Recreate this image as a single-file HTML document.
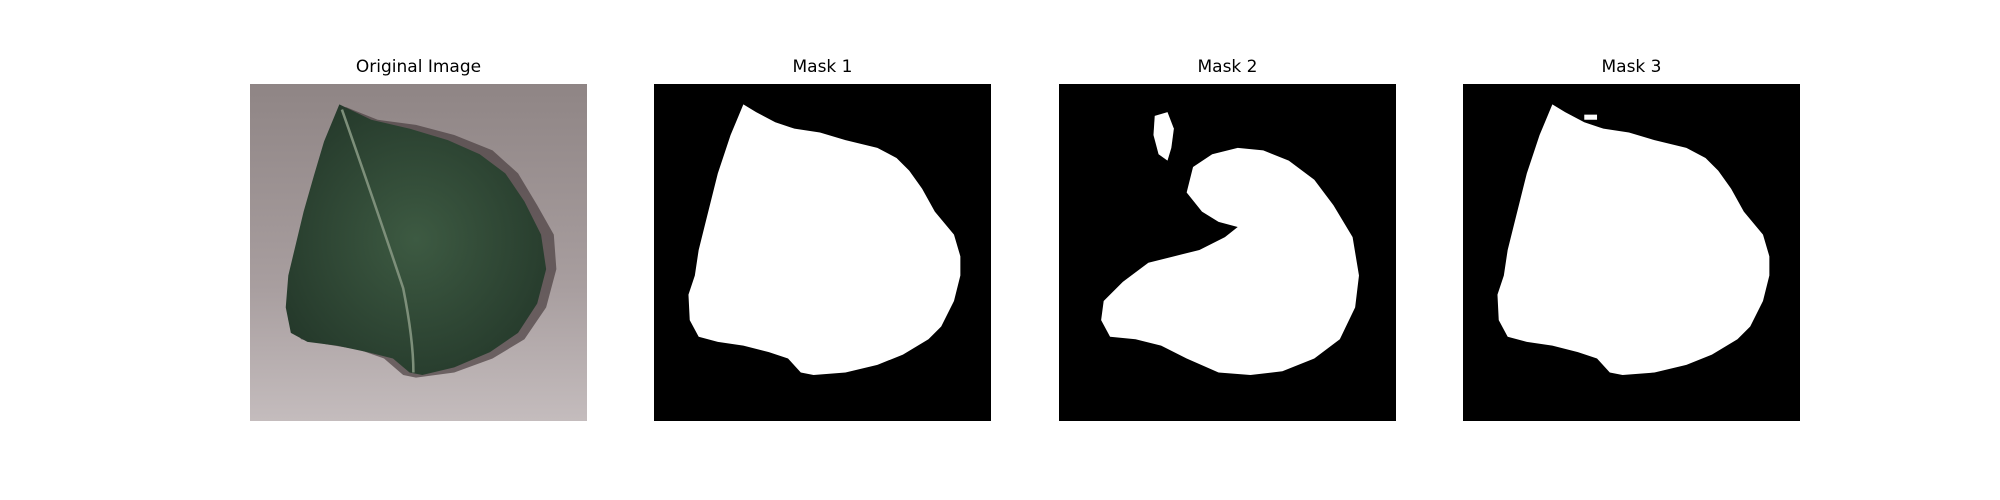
<!DOCTYPE html>
<html><head><meta charset="utf-8"><style>
html,body{margin:0;padding:0;background:#fff;}
#fig{position:relative;width:2000px;height:500px;background:#fff;font-family:"DejaVu Sans","Liberation Sans",sans-serif;}
.ttl{position:absolute;top:57px;width:337px;text-align:center;font-size:17px;color:#000;}
svg.p{position:absolute;top:84px;width:337px;height:337px;}
</style></head><body>
<div id="fig">
  <div class="ttl" style="left:250px">Original Image</div>
  <div class="ttl" style="left:654px">Mask 1</div>
  <div class="ttl" style="left:1059px">Mask 2</div>
  <div class="ttl" style="left:1463px">Mask 3</div>

  <svg class="p" style="left:250px" viewBox="0 0 264 264" preserveAspectRatio="none">
    <defs><linearGradient id="bg" x1="0" y1="0" x2="0" y2="1">
      <stop offset="0" stop-color="#8f8585"/><stop offset="0.6" stop-color="#a89e9f"/><stop offset="1" stop-color="#c4bcbd"/></linearGradient>
      <radialGradient id="lf" cx="0.5" cy="0.5" r="0.6"><stop offset="0" stop-color="#3d5a42"/><stop offset="1" stop-color="#24382a"/></radialGradient></defs>
    <rect width="264" height="264" fill="url(#bg)"/>
    <path d="M75,18 L100,28 L130,32 L160,40 L190,52 L210,70 L225,95 L238,118 L240,145 L232,175 L215,200 L190,215 L160,226 L130,230 L120,228 L105,215 L85,208 L60,204 L40,200 L30,185 L30,160 L38,130 L45,100 L55,70 L65,40 Z" fill="#4a3f40" opacity="0.7"/>
    <path d="M70,16 L95,28 L125,35 L155,44 L180,55 L200,70 L215,92 L228,118 L232,145 L225,172 L210,195 L188,210 L160,222 L135,228 L125,226 L112,215 L92,210 L68,205 L45,202 L32,195 L28,175 L30,150 L36,125 L42,100 L50,72 L58,45 Z" fill="url(#lf)"/>
    <path d="M72,20 Q100,100 120,160 Q128,200 128,226" stroke="#7d8f7a" stroke-width="2" fill="none"/>
  </svg>

  <svg class="p" style="left:654px" viewBox="0 0 264 264" preserveAspectRatio="none">
    <rect width="264" height="264" fill="#000"/>
    <path d="M70,16 L80,22 L95,30 L110,35 L130,38 L150,44 L175,50 L190,58 L200,68 L210,82 L220,100 L235,118 L240,135 L240,150 L235,170 L225,190 L215,200 L195,212 L175,220 L150,226 L125,228 L115,226 L105,215 L90,210 L70,205 L50,202 L35,198 L28,185 L27,165 L32,150 L35,130 L40,110 L45,90 L50,70 L55,55 L60,40 L65,28 Z" fill="#fff"/>
  </svg>

  <svg class="p" style="left:1059px" viewBox="0 0 264 264" preserveAspectRatio="none">
    <rect width="264" height="264" fill="#000"/>
    <path d="M75,25 L85,22 L90,35 L88,50 L85,60 L78,55 L74,40 Z" fill="#fff"/>
    <path d="M105,65 L120,55 L140,50 L160,52 L180,60 L200,75 L215,95 L230,120 L235,150 L232,175 L220,200 L200,215 L175,225 L150,228 L125,226 L100,215 L80,205 L60,200 L40,198 L33,185 L35,170 L50,155 L70,140 L90,135 L110,130 L130,120 L140,112 L125,108 L112,100 L100,85 Z" fill="#fff"/>
  </svg>

  <svg class="p" style="left:1463px" viewBox="0 0 264 264" preserveAspectRatio="none">
    <rect width="264" height="264" fill="#000"/>
    <path d="M70,16 L80,22 L95,30 L110,35 L130,38 L150,44 L175,50 L190,58 L200,68 L210,82 L220,100 L235,118 L240,135 L240,150 L235,170 L225,190 L215,200 L195,212 L175,220 L150,226 L125,228 L115,226 L105,215 L90,210 L70,205 L50,202 L35,198 L28,185 L27,165 L32,150 L35,130 L40,110 L45,90 L50,70 L55,55 L60,40 L65,28 Z" fill="#fff"/>
    <rect x="95" y="24" width="10" height="4" fill="#fff"/>
  </svg>
</div>
</body></html>
